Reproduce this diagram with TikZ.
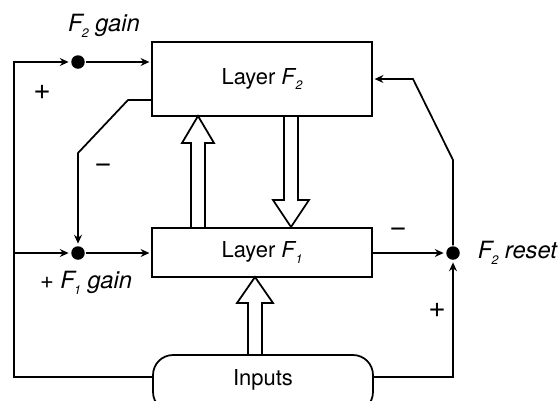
\documentclass[tikz,border=0pt]{standalone}
\usepackage{fontspec}
\setmainfont{TeX Gyre Heros}
\usetikzlibrary{arrows.meta,calc}
\newcommand{\Fs}[1]{\textit{F}\kern-0.5pt\raisebox{-0.45ex}{\scriptsize\itshape #1}}
\begin{document}
\begin{tikzpicture}[x=0.02cm,y=-0.02cm,line width=1pt,
  arr/.style={-{Stealth[length=5pt,width=4.5pt]},shorten >=1pt},
  box/.style={draw,line width=1pt,minimum width=4.4cm,inner sep=0pt,font=\fontsize{12.5}{14}\selectfont},
  dotn/.style={circle,fill=black,inner sep=0pt,minimum size=0.27cm},
  lab/.style={font=\fontsize{13.5}{15}\selectfont\itshape},
  sgn/.style={font=\fontsize{17}{17}\selectfont},
  msgn/.style={font=\fontsize{17}{17}\selectfont}]
\useasboundingbox (0,0) rectangle (560,400);
\begin{scope}
\clip (0,0) rectangle (560,400);
\node[box,minimum height=1.48cm] (f2) at (262,79) {Layer \Fs{2}};
\node[box,minimum height=0.98cm] (f1) at (262,252.5) {Layer \Fs{1}};
\node[box,minimum height=1.14cm,rounded corners=0.4cm,text depth=7pt] (in) at (263,383.5) {Inputs};
\end{scope}
\node[dotn] (g2) at (78,62) {};
\node[dotn] (g1) at (78,253) {};
\node[dotn] (rs) at (453,253) {};
\coordinate (lb) at (14,377);
\coordinate (lm) at (14,253);
\coordinate (fa) at (128,100);
\coordinate (fb) at (78,153);
\coordinate (rb) at (453,377);
\coordinate (ra) at (453,160);
\coordinate (rc) at (413,79);
% left bus
\draw[arr] (in.west |- lb) -- (lb) |- (g2);
\draw[arr] (lm) -- (g1);
\draw[arr] (g2) -- (g2 -| f2.west);
\draw[arr] (g1) -- (g1 -| f1.west);
% inhibitory feedback F2 -> F1 gain
\draw[arr] (f2.west |- fa) -- (fa) -- (fb) -- (g1);
% F1 -> reset
\draw[arr] (f1.east |- rs) -- (rs);
\draw[arr] (in.east |- rb) -- (rb) -- (rs);
% reset -> F2
\draw[arr] (rs) -- (ra) -- (rc) -- (rc -| f2.east);
% hollow arrows
\draw[line join=miter] (191,228) -- (191,143) -- (182,143) -- (198,116) -- (214,143) -- (205,143) -- (205,228);
\draw[line join=miter] (284,116) -- (284,200) -- (273,200) -- (291,227) -- (309,200) -- (298,200) -- (298,116);
\draw[line join=miter] (248,355) -- (248,303) -- (237,303) -- (255,277) -- (273,303) -- (262,303) -- (262,355);
% labels
\node[lab] (t2) at (104,26) {\Fs{2} gain};
\node[lab] (t1) at (86,283) {\upshape+ \itshape\Fs{1} gain};
\node[lab,anchor=west,inner xsep=0pt] (tr) at (477,253) {\Fs{2} reset};
\node[sgn] (p1) at (42,92) {+};
\node[msgn] (m1) at (103,168) {−};
\node[msgn] (m2) at (398,232) {−};
\node[sgn] (p2) at (437,310) {+};
\end{tikzpicture}
\end{document}
